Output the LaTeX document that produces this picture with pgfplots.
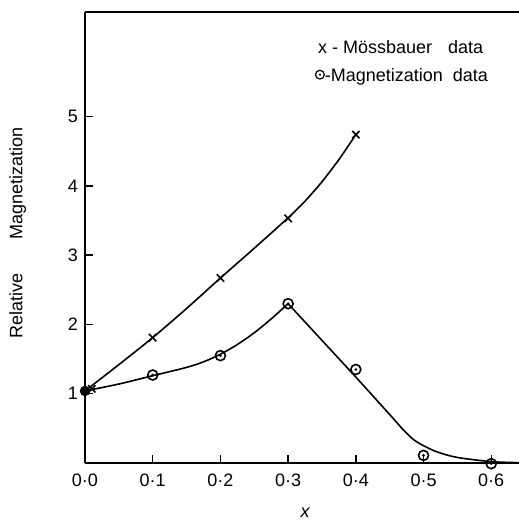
\documentclass[border=0pt]{standalone}
\usepackage{fontspec}
\setmainfont{Liberation Sans}
\usepackage{pgfplots}
\pgfplotsset{compat=1.18}
\pgfdeclareplotmark{odot}{%
  \pgfpathcircle{\pgfpointorigin}{\pgfplotmarksize}\pgfusepathqstroke
  \pgfpathcircle{\pgfpointorigin}{0.3\pgfplotmarksize}\pgfusepathqfill}
\begin{document}
\begin{tikzpicture}
\begin{axis}[
  scale only axis,
  width=217pt, height=225.5pt,
  xmin=0, xmax=0.641, ymin=0, ymax=6.51,
  axis x line=box, axis y line=left,
  axis line style={-, line width=0.9pt},
  tick align=inside,
  xtick pos=left, ytick pos=left,
  major tick length=4pt,
  every tick/.style={black, line width=0.7pt},
  xtick={0,0.1,0.2,0.3,0.4,0.5,0.6},
  xticklabels={0·0,0·1,0·2,0·3,0·4,0·5,0·6},
  ytick={1,2,3,4,5},
  yticklabels={1,2,3,4,5},
  xticklabel style={yshift=-2pt},
  font=\fontsize{9pt}{11pt}\selectfont,
  every axis x label/.style={at={(axis description cs:0.507,0)}, anchor=center, yshift=-25pt},
  every axis y label/.style={at={(axis description cs:-0.155,0.51)}, anchor=center, rotate=90},
  xlabel={\itshape x},
  ylabel={Relative\hspace{17pt}Magnetization},
  clip=false,
]
% fitted curves
\addplot[black, line width=0.8pt, smooth, no marks] coordinates {
  (0,1.04) (0.05,1.42) (0.1,1.81) (0.15,2.23) (0.2,2.67) (0.25,3.1) (0.3,3.54) (0.325,3.78) (0.35,4.06) (0.375,4.38) (0.4,4.74)};
\addplot[black, line width=0.8pt, smooth, no marks] coordinates {
  (0,1.04) (0.05,1.14) (0.1,1.26) (0.15,1.38) (0.175,1.46) (0.2,1.57) (0.225,1.71) (0.25,1.88) (0.275,2.08) (0.3,2.3)};
\addplot[black, line width=0.8pt, smooth, no marks] coordinates {
  (0.3,2.3) (0.35,1.77) (0.4,1.24) (0.45,0.70) (0.47,0.48) (0.485,0.34) (0.5,0.25) (0.52,0.16) (0.55,0.08) (0.6,0.02) (0.641,0.005)};
% data
\addplot[only marks, mark=x, mark size=2.6pt, mark options={line width=0.8pt}] coordinates {
  (0.01,1.07) (0.1,1.81) (0.2,2.67) (0.3,3.53) (0.4,4.74)};
\addplot[only marks, mark=odot, mark size=2.5pt, mark options={line width=0.8pt}] coordinates {
  (0.1,1.27) (0.2,1.55) (0.3,2.3) (0.4,1.35) (0.5,0.11) (0.6,-0.01)};
\addplot[only marks, mark=*, mark size=2.4pt] coordinates {(0,1.04)};
\node[anchor=west] at (axis cs:0.334,6.0) {x - Mössbauer\hspace{8pt}data};
\node[anchor=west, inner sep=0pt] at (axis cs:0.339,5.58) {\tikz[baseline=-0.6ex]{\draw[line width=0.6pt] (0,0) circle (2.2pt); \fill (0,0) circle (0.6pt);}-Magnetization\hspace{5pt}data};
\end{axis}
\pgfresetboundingbox
\path (-42.5pt,-28.5pt) rectangle (217pt,231.5pt);
\end{tikzpicture}
\end{document}
